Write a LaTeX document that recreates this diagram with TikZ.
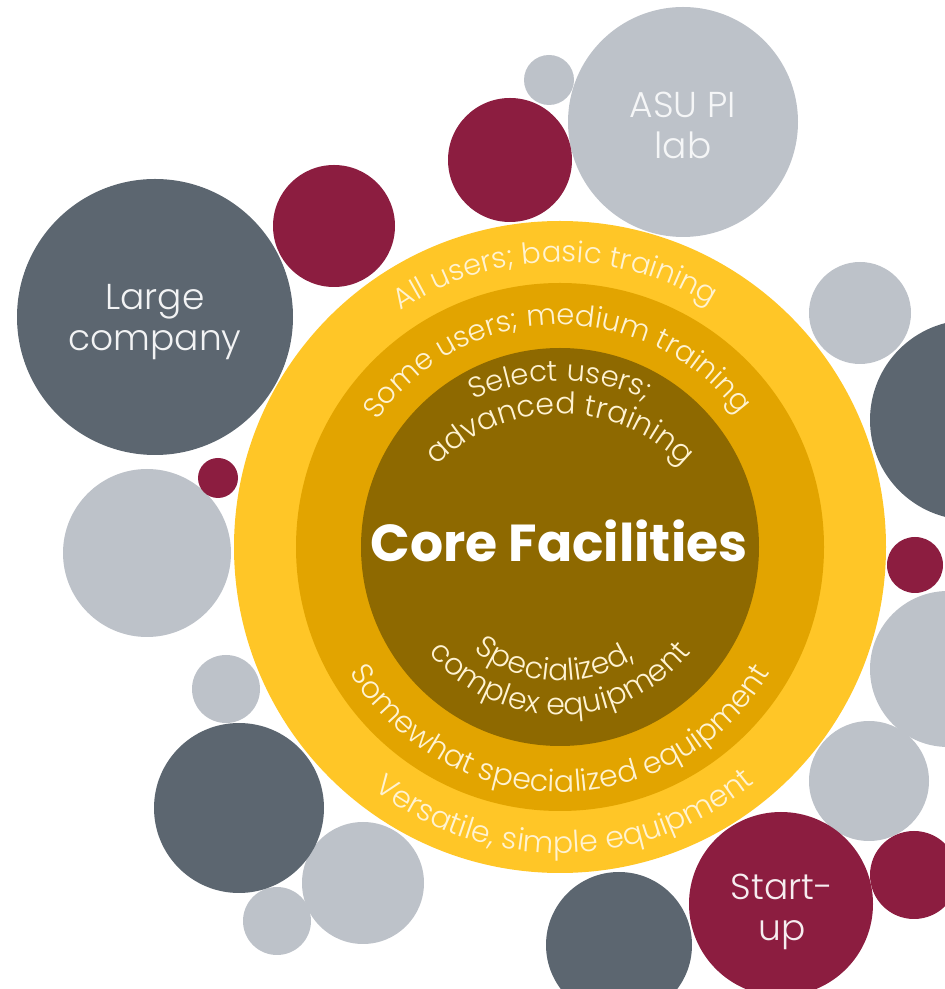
\documentclass[tikz,border=0pt]{standalone}
\usepackage{fontspec}
\setmainfont{Poppins}
\newfontfamily\thinfont{Poppins Light}
\usetikzlibrary{decorations.text}

\definecolor{asugold}{HTML}{FFC627}
\definecolor{midgold}{HTML}{E2A400}
\definecolor{coregold}{HTML}{8E6900}
\definecolor{asumaroon}{HTML}{8C1D40}
\definecolor{bubslate}{HTML}{5C6670}
\definecolor{bubgrey}{HTML}{BDC2C9}
\definecolor{ringcream}{HTML}{FFF3D2}

\begin{document}
\begin{tikzpicture}[x=1pt,y=1pt,
    greybub/.style={fill=bubgrey},
    slatebub/.style={fill=bubslate},
    maroonbub/.style={fill=asumaroon},
    bublabel/.style={font={\thinfont\fontsize{36}{41}\selectfont}, align=center, inner sep=0pt},
    corelabel/.style={font={\fontsize{52}{52}\selectfont\bfseries}, text=white, inner sep=0pt},
    ringtext/.style 2 args={decorate, decoration={text along path, text align=center,
        text color=ringcream, text={|\thinfont\fontsize{#1}{#1}\selectfont|#2}}},
    ]

    \useasboundingbox (0,0) rectangle (945,989);
    \clip (0,0) rectangle (945,989);

    % Bubbles round the core
    \foreach \x/\y/\r in {683/867/115, 549/909/25, 860/676/51, 147/436/84, 226/300/34,
                          363/106/61, 277/68/34, 869/208/60, 948/320/78}
        \fill[greybub] (\x,\y) circle[radius=\r];
    \foreach \x/\y/\r in {155/672/138, 970/569/100, 239/181/85, 619/44/73}
        \fill[slatebub] (\x,\y) circle[radius=\r];
    \foreach \x/\y/\r in {334/763/61, 510/829/62, 218/511/20, 915/424/28, 781/85/92, 914/114/44}
        \fill[maroonbub] (\x,\y) circle[radius=\r];

    % Core rings
    \coordinate (ctr) at (560,442);
    \coordinate (topctr) at (560,402);
    \fill[asugold] (ctr) circle[radius=326];
    \fill[midgold] (ctr) circle[radius=264];
    \fill[coregold] (ctr) circle[radius=199];

    % Training, over the top
    \path[ringtext={29}{All users; basic training}]
        ([shift={(171:285)}]ctr) arc[start angle=171, end angle=11, radius=285];
    \path[ringtext={29}{Some users; medium training}]
        ([shift={(171:222)}]ctr) arc[start angle=171, end angle=11, radius=222];
    \path[ringtext={29}{Select users;}]
        ([shift={(150:206)}]topctr) arc[start angle=150, end angle=30, radius=206];
    \path[ringtext={30}{advanced training}]
        ([shift={(160:173)}]topctr) arc[start angle=160, end angle=20, radius=173];

    % Equipment, under the bottom
    \path[ringtext={30}{Specialized,}]
        ([shift={(187:134)}]ctr) arc[start angle=187, end angle=347, radius=134];
    \path[ringtext={30}{complex equipment}]
        ([shift={(190:168)}]ctr) arc[start angle=190, end angle=350, radius=168];
    \path[ringtext={30}{Somewhat specialized equipment}]
        ([shift={(190:245)}]ctr) arc[start angle=190, end angle=350, radius=245];
    \path[ringtext={30}{Versatile, simple equipment}]
        ([shift={(191:306)}]ctr) arc[start angle=191, end angle=351, radius=306];

    \node[corelabel, anchor=base] (core) at (559,427) {Core Facilities};

    \node[bublabel, text=white!92!bubslate] (large) at (155,667) {Large\\company};
    \node[bublabel, text=white!85!bubgrey] (asulab) at (683,864) {ASU PI\\lab};
    \node[bublabel, text=white!92!asumaroon] (startup) at (782,77) {Start-\\up};
\end{tikzpicture}
\end{document}
